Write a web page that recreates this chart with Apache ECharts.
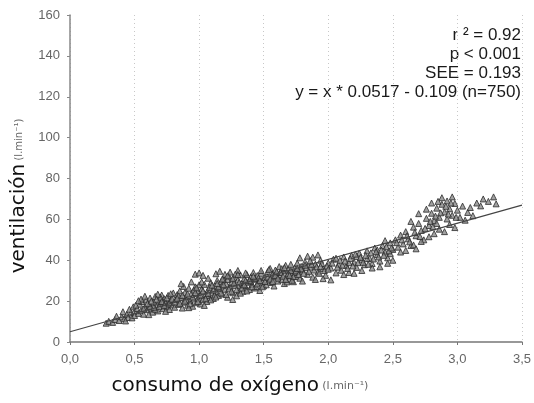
<!DOCTYPE html>
<html><head><meta charset="utf-8">
<script src="https://cdn.jsdelivr.net/npm/echarts@6/dist/echarts.min.js"></script>
<style>html,body{margin:0;padding:0;background:#fff}#c{width:534px;height:403px}</style>
</head><body><div id="c"></div>
<script>
// x tick labels (comma decimals) and y range
var xTicks = ['0,0','0,5','1,0','1,5','2,0','2,5','3,0','3,5'];
var yTicks = [0,20,40,60,80,100,120,140,160];
// regression line end points
var regX = [0, 3.5];
var regY = [5, 67];
// statistics text
var statsLines = ['r \u00b2 = 0.92', 'p < 0.001', 'SEE = 0.193', 'y = x * 0.0517 - 0.109 (n=750)'];
// observed points [oxygen uptake, ventilation]
var points = [
[0.28,9.2],[0.30,10.1],[0.33,9.6],[0.35,11.0],[0.38,10.5],[0.40,12.3],[0.42,11.4],[0.44,13.5],[0.45,12.0],[0.47,14.2],[0.48,11.8],[0.50,15.1],[0.50,13.0],[0.36,12.6],[0.41,14.8],[0.46,16.0],[0.49,17.2],[0.43,10.3],
[0.52,16.4],[0.53,14.0],[0.54,18.5],[0.55,15.3],[0.56,19.8],[0.57,13.6],[0.58,17.0],[0.59,20.6],[0.60,15.8],[0.61,18.2],[0.62,21.5],[0.63,16.5],[0.64,14.6],[0.65,19.4],[0.66,22.3],[0.67,17.6],[0.68,15.2],[0.69,20.1],[0.70,18.8],[0.71,23.0],[0.72,16.3],[0.73,21.2],[0.74,19.0],[0.75,17.4],[0.76,22.8],[0.77,15.9],[0.78,20.4],[0.79,18.1],[0.80,24.0],[0.55,21.0],[0.58,22.4],[0.62,17.3],[0.66,16.0],[0.70,21.9],[0.74,15.0],[0.78,23.6],[0.61,13.4],[0.68,23.4],[0.72,19.6],[0.76,18.6],
[0.81,17.0],[0.82,20.8],[0.83,23.2],[0.84,18.4],[0.85,25.0],[0.86,21.6],[0.87,16.6],[0.88,19.5],[0.89,24.2],[0.90,22.1],[0.91,18.0],[0.92,26.3],[0.93,20.2],[0.94,23.8],[0.95,17.5],[0.96,21.0],[0.97,27.0],[0.98,19.2],[0.99,24.9],[1.00,22.5],[1.01,18.6],[1.02,26.0],[1.03,20.7],[1.04,28.2],[1.05,23.4],[1.06,19.8],[1.07,25.6],[1.08,21.8],[1.09,29.0],[1.10,24.0],[0.84,22.6],[0.88,27.2],[0.92,16.8],[0.96,25.4],[1.00,28.0],[1.04,17.9],[1.08,26.8],[0.97,33.2],[1.00,33.8],[1.03,32.6],[1.07,31.2],[0.86,28.5],[0.90,20.6],[0.94,29.4],[0.99,21.4],[1.06,22.7],
[1.11,21.3],[1.12,27.4],[1.13,24.6],[1.14,30.1],[1.15,22.8],[1.16,26.2],[1.17,29.6],[1.18,23.5],[1.19,31.0],[1.20,25.8],[1.21,28.4],[1.22,21.9],[1.23,32.2],[1.24,26.9],[1.25,29.3],[1.26,24.1],[1.27,31.6],[1.28,27.7],[1.29,22.6],[1.30,30.4],[1.31,25.3],[1.32,32.8],[1.33,28.6],[1.34,24.8],[1.35,31.1],[1.36,27.0],[1.37,33.0],[1.38,29.2],[1.39,25.7],[1.40,31.9],[1.41,28.1],[1.42,34.0],[1.43,26.4],[1.44,30.7],[1.45,32.5],[1.46,28.9],[1.47,25.2],[1.48,33.6],[1.49,30.0],[1.50,27.5],[1.13,33.4],[1.16,34.6],[1.20,33.1],[1.24,34.2],[1.30,35.0],[1.36,33.8],[1.12,23.0],[1.18,27.9],[1.22,30.6],[1.28,33.2],[1.34,27.6],[1.40,29.7],[1.46,31.4],[1.26,20.8],[1.32,23.9],[1.44,27.2],
[1.51,31.5],[1.52,28.0],[1.53,34.4],[1.54,30.2],[1.55,36.0],[1.56,29.1],[1.57,33.3],[1.58,27.4],[1.59,35.2],[1.60,31.8],[1.61,29.8],[1.62,36.9],[1.63,33.0],[1.64,30.5],[1.65,34.8],[1.66,28.6],[1.67,37.5],[1.68,32.4],[1.69,35.6],[1.70,30.9],[1.71,38.0],[1.72,33.7],[1.73,29.5],[1.74,36.3],[1.75,32.0],[1.76,38.6],[1.77,34.5],[1.78,31.2],[1.79,37.0],[1.80,35.3],[1.82,39.2],[1.84,33.1],[1.86,36.6],[1.88,31.7],[1.90,38.1],[1.92,34.2],[1.94,40.0],[1.96,36.0],[1.98,32.6],[2.00,38.7],[1.78,41.2],[1.84,42.0],[1.88,41.5],[1.92,42.6],[1.72,30.2],[1.80,29.8],[1.90,30.6],[1.96,31.0],[2.02,30.4],[1.58,32.4],[1.64,35.9],[1.68,29.4],[1.74,34.0],
[2.02,36.2],[2.04,40.5],[2.06,33.8],[2.08,38.0],[2.10,35.1],[2.12,41.6],[2.14,37.4],[2.16,34.0],[2.18,42.3],[2.20,39.0],[2.22,36.5],[2.24,43.5],[2.26,40.2],[2.28,37.8],[2.30,44.6],[2.32,41.0],[2.34,38.4],[2.36,46.0],[2.38,42.8],[2.40,39.6],[2.42,47.2],[2.44,44.0],[2.46,41.2],[2.48,48.5],[2.50,45.3],[2.12,33.0],[2.20,33.6],[2.26,35.0],[2.34,36.2],[2.40,36.8],[2.46,38.5],[2.50,40.0],[2.22,41.8],[2.30,40.8],[2.38,45.0],[2.44,49.6],[2.48,43.2],[2.16,38.8],[2.06,41.0],
[2.52,50.0],[2.54,46.4],[2.56,52.3],[2.58,48.0],[2.60,54.0],[2.62,50.5],[2.64,47.2],[2.66,56.2],[2.68,52.0],[2.70,58.0],[2.72,54.6],[2.74,50.0],[2.76,60.5],[2.78,57.0],[2.80,63.0],[2.82,59.4],[2.84,65.5],[2.86,61.0],[2.88,67.4],[2.90,63.6],[2.92,69.0],[2.94,65.2],[2.96,62.0],[2.98,67.8],[3.00,64.5],[2.60,44.8],[2.66,47.5],[2.72,49.2],[2.78,51.5],[2.82,53.0],[2.86,55.2],[2.90,54.0],[2.94,57.5],[2.98,56.0],[2.84,58.0],[2.80,68.0],[2.88,70.6],[2.76,65.0],[2.70,62.8],[2.64,59.0],[2.92,60.2],[2.96,71.0],[2.56,44.0],[2.68,45.6],
[3.02,61.0],[3.04,66.5],[3.06,59.6],[3.08,63.4],[3.10,65.8],[3.15,68.0],[3.18,66.6],[3.20,70.0],[3.24,68.8],[3.28,71.0],[3.30,67.6],[3.12,61.8],
[0.51,18.0],[0.53,20.2],[0.57,16.2],[0.60,18.9],[0.63,20.0],[0.65,17.0],[0.67,20.9],[0.69,17.3],[0.71,19.8],[0.73,17.9],[0.75,21.6],[0.77,19.2],[0.79,21.0],[0.81,19.6],[0.83,21.4],[0.85,18.9],[0.87,22.8],[0.89,20.0],[0.91,23.5],[0.93,18.7],[0.95,22.0],[0.97,24.2],[0.99,19.8],[1.01,23.0],[1.03,25.0],[1.05,21.2],[1.07,23.8],[1.09,20.6],[1.11,25.4],[1.13,22.0],[1.15,27.0],[1.17,24.0],[1.19,28.0],[1.21,23.2],[1.23,26.0],[1.25,24.8],[1.27,28.8],[1.29,25.6],[1.31,29.2],[1.33,26.4],[1.35,28.0],[1.37,25.0],[1.39,30.2],[1.41,27.0],[1.43,31.0],[1.45,28.4],[1.47,30.0],[1.49,27.0],[1.51,29.6],[1.53,31.8],[1.55,30.8],[1.57,29.6],[1.59,32.6],[1.61,31.2],[1.63,34.0],[1.65,32.2],[1.67,30.6],[1.69,33.4],[1.71,35.0],[1.73,32.0],[1.75,34.8],[1.77,33.0],[1.79,35.8],[1.81,33.6],[1.83,36.4],[1.85,34.6],[1.87,38.0],[1.89,35.2],[1.91,36.8],[1.93,33.6],[1.95,38.4],[1.97,35.0],[1.99,37.2],[0.98,26.5],[1.02,29.4],[1.10,27.8],[1.14,28.6],[1.18,30.8],[1.22,32.4],[1.26,31.0],[1.30,33.0],[1.36,30.0],[1.42,32.2],[1.48,35.0],[1.54,35.4],[1.60,34.4],[1.66,36.4],[1.70,32.6],[1.76,36.0],[1.82,37.6],[1.86,39.8],[1.94,37.0],[2.00,35.6],
[2.03,38.6],[2.07,36.6],[2.09,40.0],[2.11,37.6],[2.13,39.6],[2.15,36.0],[2.17,40.8],[2.19,37.2],[2.21,43.0],[2.23,38.8],[2.25,41.4],[2.27,39.0],[2.29,42.4],[2.31,38.0],[2.33,43.6],[2.35,40.6],[2.37,44.2],[2.39,41.6],[2.41,45.0],[2.43,42.4],[2.45,46.6],[2.47,44.6],[2.49,46.0],[2.53,48.6],[2.57,50.0],[2.61,52.0],[2.63,49.0],[2.67,53.6],[2.71,51.6],[2.75,55.6],[2.79,59.0],[2.83,61.6],[2.87,63.2],[2.91,66.4],[2.95,68.0],[2.99,61.0],[2.85,68.8],[2.93,62.6],[2.81,56.4]
];

var chart = echarts.init(document.getElementById('c'), null, {renderer:'canvas'});
var FONT = 'Liberation Sans';
var statCenters = [35, 54, 73, 92];
var statGraphics = statsLines.map(function(t, i){
  return {type:'text', x: 521, y: statCenters[i],
    style:{text:t, font:'17px "Liberation Sans"', fill:'#1a1a1a', textAlign:'right', textVerticalAlign:'middle'}};
});
chart.setOption({
  animation:false,
  grid:{left:70, right:9, top:15, bottom:61, containLabel:false},
  xAxis:{type:'value', min:0, max:3.5, interval:0.5,
    axisLine:{show:true, onZero:false, lineStyle:{color:'#777', width:1.5}},
    axisTick:{show:true, length:3, lineStyle:{color:'#777'}},
    axisLabel:{margin:11, fontFamily:FONT, fontSize:13, color:'#666',
      formatter:function(v){ return xTicks[Math.round(v/0.5)]; }},
    splitLine:{show:true, lineStyle:{color:'#c8c8c8', type:[1,3], width:1}}},
  yAxis:{type:'value', min:0, max:160, interval:20,
    axisLine:{show:true, lineStyle:{color:'#888', width:1.5}},
    axisTick:{show:true, length:3, lineStyle:{color:'#888'}},
    axisLabel:{margin:10, fontFamily:FONT, fontSize:13, color:'#666',
      formatter:function(v){ return yTicks.indexOf(v) >= 0 ? String(v) : ''; }},
    splitLine:{show:false}},
  series:[
    {type:'scatter', data:points, symbol:'triangle', symbolSize:6,
      itemStyle:{color:'#8a8a8a', borderColor:'#2a2a2a', borderWidth:1}, z:2},
    {type:'line', data:regX.map(function(x,i){return [x, regY[i]];}), symbol:'none',
      lineStyle:{color:'#444', width:1.2}, z:3}
  ],
  graphic:[
    {type:'text', x:19, y:196, rotation:Math.PI/2,
      style:{text:'{a|ventilación} {b|(l.min\u207b\u00b9)}', textAlign:'center', textVerticalAlign:'middle',
        rich:{a:{font:'20px "DejaVu Sans"', fill:'#111'}, b:{font:'10px "DejaVu Sans"', fill:'#666'}}}},
    {type:'text', x:240, y:386,
      style:{text:'{a|consumo de oxígeno} {b|(l.min\u207b\u00b9)}', textAlign:'center', textVerticalAlign:'middle',
        rich:{a:{font:'20px "DejaVu Sans"', fill:'#111'}, b:{font:'11px "DejaVu Sans"', fill:'#666'}}}}
  ].concat(statGraphics)
});
</script></body></html>
